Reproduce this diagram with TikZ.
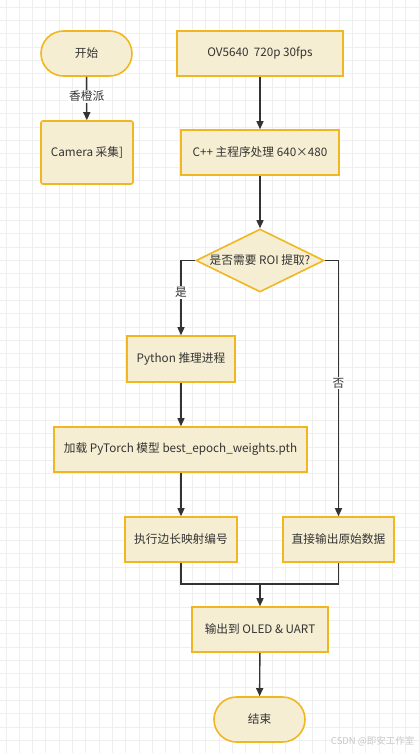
\documentclass[tikz,border=0pt]{standalone}
\usepackage{fontspec}
\setmainfont{Noto Sans CJK SC}
\usetikzlibrary{shapes.geometric,shapes.misc,arrows.meta,positioning}
\definecolor{boxfill}{HTML}{F6EED2}
\definecolor{boxline}{HTML}{F0B722}
\definecolor{arr}{HTML}{333333}
\definecolor{gridc}{HTML}{EFEFEF}
\tikzset{
  base/.style={draw=boxline, fill=boxfill, line width=1.6pt, font=\fontsize{11.7}{14}\selectfont, text=arr, inner sep=0pt},
  procbox/.style={base, rectangle, minimum height=45pt},
  termbox/.style={base, rounded rectangle, minimum width=91pt, minimum height=45pt},
  conn/.style={draw=arr, line width=1.4pt, -{Triangle[length=8pt,width=7pt]}},
  plain/.style={draw=arr, line width=1.4pt},
  lbl/.style={fill=white, font=\fontsize{11.7}{14}\selectfont, text=arr, inner sep=1pt}
}
\begin{document}
\begin{tikzpicture}[x=1pt,y=-1pt]
\useasboundingbox (0,0) rectangle (420,753);
\fill[white] (0,0) rectangle (420,753);
% grid
\foreach \i in {0,...,31} {\draw[gridc, line width=1pt] ({6+13.333*\i},0) -- ({6+13.333*\i},753);}
\foreach \j in {0,...,56} {\draw[gridc, line width=1pt] (0,{7.3+13.333*\j}) -- (420,{7.3+13.333*\j});}

\node[termbox] (start) at (86.5,53.5) {开始};
\node[procbox, minimum width=92pt, minimum height=63pt, rounded corners=2pt] (cam) at (87,152.5) {Camera 采集]};
\node[procbox, minimum width=166pt] (ov) at (260,53.5) {OV5640\ \ 720p 30fps};
\node[procbox, minimum width=158pt] (cpp) at (260,152.5) {C++ 主程序处理 640×480};
\node[base, diamond, minimum width=128pt, minimum height=63pt, aspect=2.03, inner sep=0pt] (dec) at (260,260.5) {};
\node[font=\fontsize{11.7}{14}\selectfont, text=arr] (dect) at (260,260.5) {是否需要 ROI 提取?};
\node[procbox, minimum width=108pt, minimum height=46pt] (py) at (181,359) {Python 推理进程};
\node[procbox, minimum width=253pt] (load) at (180.5,449.5) {加载 PyTorch 模型 best\_epoch\_weights.pth};
\node[procbox, minimum width=112pt] (exec) at (181,539.5) {执行边长映射编号};
\node[procbox, minimum width=111pt] (raw) at (338.5,539.5) {直接输出原始数据};
\node[procbox, minimum width=136pt] (out) at (260,629.5) {输出到 OLED \& UART};
\node[termbox] (end) at (259.5,719.5) {结束};
\coordinate (merge) at (260,584);

\draw[conn] (start) -- node[lbl, pos=0.45] {香橙派} (cam);
\draw[conn] (ov) -- (cpp);
\draw[conn] (cpp) -- (dec);
\draw[conn] (dec.west) -| node[lbl, pos=0.715] {是} (py.north);
\draw[conn] (dec.east) -| node[lbl, pos=0.74] {否} (raw.north);
\draw[conn] (py) -- (load.north -| py);
\draw[conn] (load.south -| exec) -- (exec);
\draw[plain] (exec.south) |- (merge) -| (raw.south);
\draw[conn] (merge) -- (out);
\draw[conn] (out) -- (end);

\node[font=\fontsize{9.5}{11}\selectfont, text=black!22, anchor=east] (wm) at (418,741.5) {CSDN @即安工作室};
\end{tikzpicture}
\end{document}
